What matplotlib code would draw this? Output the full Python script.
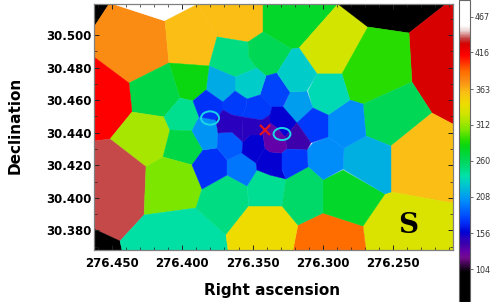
"""Voronoi-binned map with its colour scale."""

import matplotlib

matplotlib.use("Agg")
import matplotlib.pyplot as plt
from matplotlib.colors import LinearSegmentedColormap, Normalize
from matplotlib.patches import Ellipse
from matplotlib.ticker import FixedLocator, MultipleLocator

RA_MIN, RA_MAX = 276.2075, 276.4628
DEC_MIN, DEC_MAX = 30.3680, 30.5190
VMIN, VMAX = 57, 491

cbar_ticks = [104, 156, 208, 260, 312, 363, 416, 467]
ra_ticks = [276.45, 276.40, 276.35, 276.30, 276.25]
dec_ticks = [30.38, 30.40, 30.42, 30.44, 30.46, 30.48, 30.50]

# colour scale
scale_values = [57, 100, 120, 130, 140, 148, 157, 172, 185, 202, 213, 228, 238, 248, 260,
                272, 282, 290, 305, 315, 328, 342, 358, 375, 388, 412, 428, 436, 447, 455, 491]
scale_colors = ["#000000", "#000000", "#730a8c", "#6400aa", "#3c00aa", "#2800be", "#0000d2",
                "#0032fa", "#005aff", "#008cfa", "#00aae6", "#00cdc8", "#00e1aa", "#00dc82",
                "#00d75a", "#00d732", "#0ad70f", "#28dc00", "#7de600", "#a5e600", "#d2e400",
                "#eedc00", "#fac014", "#fa8c14", "#ff6e00", "#ff0000", "#d70000", "#c34141",
                "#ebd2d2", "#ffffff", "#ffffff"]

cell_ra = [
    [.4628, .4521, .4628],
    [.4521, .4493, .4123, .4095, .4379, .4628, .4628],
    [.4493, .3889, .4123],
    [.4123, .3889, .3753, .3810, .4095],
    [.3889, .3426, .3426, .3533, .3753],
    [.3426, .2893, .3170, .3220, .3426],
    [.3753, .3533, .3526, .3469, .3625, .3810],
    [.3533, .3426, .3220, .3327, .3405, .3469, .3526],
    [.3170, .2893, .2680, .2865, .3042],
    [.2893, .2125, .2388, .2680],
    [.2125, .2075, .2075, .2225, .2367, .2388],
    [.2680, .2388, .2367, .2715, .2808, .2865],
    [.2715, .2367, .2225, .2516, .2694],
    [.2516, .2225, .2075, .2075, .2516],
    [.2516, .2075, .2075, .2694, .2715, .2559],
    [.3213, .3178, .3000, .2715, .2694],
    [.3000, .2858, .2559, .2715, .3000],
    [.2850, .2694, .2516, .2516, .2559, .2858],
    [.3114, .3071, .2964, .2850, .2858, .3000, .3106],
    [.2964, .2808, .2715, .2694, .2850, .2964],
    [.3106, .3042, .2865, .2808, .2964, .3071],
    [.3234, .3114, .3071, .3185, .3284],
    [.3185, .3071, .2964, .2964, .3085],
    [.3405, .3327, .3234, .3284, .3362, .3448],
    [.3220, .3170, .3042, .3114, .3234, .3327],
    [.3469, .3405, .3448, .3540, .3625, .3625],
    [.3810, .3625, .3625, .3711, .3832],
    [.4095, .3810, .3832, .3924, .4017],
    [.4379, .4095, .4017, .4130, .4358],
    [.4628, .4379, .4358, .4514, .4628],
    [.4358, .4130, .4088, .4137, .4258, .4514],
    [.4628, .4514, .4258, .4272, .4443, .4628],
    [.4628, .4443, .4429, .4628],
    [.4130, .4017, .3924, .3881, .3931, .4088],
    [.4088, .3931, .3853, .3931, .4137],
    [.4258, .4137, .3931, .3860, .3903, .4272],
    [.4443, .4272, .3903, .3689, .3675, .4429],
    [.3860, .3682, .3540, .3526, .3689, .3903],
    [.3689, .3526, .3291, .3178, .3213, .3675],
    [.3540, .3469, .3377, .3263, .3291, .3526],
    [.3263, .3106, .3000, .3000, .3178, .3291],
    [.3931, .3853, .3753, .3682, .3682, .3860],
    [.3682, .3576, .3476, .3469, .3540, .3682],
    [.3881, .3761, .3746, .3753, .3853, .3931],
    [.3753, .3746, .3647, .3569, .3576, .3682],
    [.3569, .3519, .3426, .3412, .3476, .3576],
    [.3412, .3377, .3291, .3291, .3263, .3377, .3469, .3476],
    [.3924, .3832, .3711, .3711, .3761, .3881],
    [.3711, .3625, .3540, .3547, .3576, .3647, .3711],
    [.3540, .3448, .3362, .3377, .3434, .3576, .3547],
    [.3711, .3647, .3576, .3569, .3647, .3746, .3761],
    [.3576, .3434, .3377, .3377, .3426, .3519, .3569],
    [.3362, .3284, .3185, .3270, .3327, .3377, .3377],
    [.3185, .3085, .3114, .3256, .3270],
    [.3377, .3327, .3270, .3256, .3291, .3377, .3412, .3426],
    [.3291, .3256, .3114, .3106, .3263, .3291],
]
cell_dec = [
    [.5190, .5190, .5049],
    [.5190, .5190, .5086, .4828, .4705, .4865, .5049],
    [.5190, .5190, .5086],
    [.5086, .5190, .4988, .4810, .4828],
    [.5190, .5190, .5018, .4957, .4988],
    [.5190, .5190, .4920, .4914, .5018],
    [.4988, .4957, .4865, .4797, .4742, .4810],
    [.4957, .5018, .4914, .4767, .4748, .4797, .4865],
    [.4920, .5190, .5049, .4761, .4761],
    [.5190, .5190, .5012, .5049],
    [.5190, .5190, .4453, .4521, .4711, .5012],
    [.5049, .5012, .4711, .4576, .4601, .4761],
    [.4576, .4711, .4521, .4318, .4380],
    [.4318, .4521, .4453, .3968, .4036],
    [.4036, .3968, .3680, .3680, .3827, .4024],
    [.3680, .3833, .3907, .3827, .3680],
    [.4110, .4171, .4024, .3827, .3907],
    [.4306, .4380, .4318, .4036, .4024, .4177],
    [.4294, .4337, .4374, .4306, .4177, .4110, .4190],
    [.4509, .4601, .4576, .4380, .4306, .4374],
    [.4656, .4761, .4761, .4601, .4509, .4552],
    [.4650, .4656, .4552, .4460, .4552],
    [.4460, .4552, .4509, .4374, .4337],
    [.4748, .4767, .4650, .4558, .4558, .4632],
    [.4914, .4920, .4761, .4656, .4650, .4767],
    [.4797, .4748, .4632, .4607, .4656, .4742],
    [.4810, .4742, .4656, .4589, .4662],
    [.4828, .4810, .4662, .4595, .4613],
    [.4705, .4828, .4613, .4497, .4527],
    [.4865, .4705, .4527, .4361, .4349],
    [.4527, .4497, .4417, .4251, .4190, .4361],
    [.4349, .4361, .4190, .3895, .3735, .3809],
    [.3809, .3735, .3680, .3680],
    [.4497, .4613, .4595, .4497, .4411, .4417],
    [.4417, .4411, .4294, .4202, .4251],
    [.4190, .4251, .4202, .4054, .3938, .3895],
    [.3735, .3895, .3938, .3772, .3680, .3680],
    [.4054, .4140, .4073, .3950, .3772, .3938],
    [.3772, .3950, .3950, .3833, .3680, .3680],
    [.4073, .4171, .4140, .4116, .3950, .3950],
    [.4116, .4190, .4110, .3907, .3833, .3950],
    [.4202, .4294, .4306, .4233, .4140, .4054],
    [.4233, .4275, .4214, .4171, .4073, .4140],
    [.4497, .4478, .4398, .4306, .4294, .4411],
    [.4306, .4398, .4404, .4343, .4275, .4233],
    [.4343, .4386, .4386, .4306, .4214, .4275],
    [.4306, .4282, .4275, .4171, .4116, .4140, .4171, .4214],
    [.4595, .4662, .4589, .4540, .4478, .4497],
    [.4589, .4656, .4607, .4558, .4497, .4509, .4540],
    [.4607, .4632, .4558, .4509, .4478, .4497, .4558],
    [.4540, .4509, .4497, .4343, .4404, .4398, .4478],
    [.4497, .4478, .4509, .4460, .4386, .4386, .4343],
    [.4558, .4558, .4460, .4374, .4429, .4460, .4509],
    [.4460, .4337, .4294, .4300, .4374],
    [.4460, .4429, .4374, .4300, .4275, .4282, .4306, .4386],
    [.4275, .4300, .4294, .4190, .4116, .4171],
]
cell_values = [60, 375, 470, 358, 358, 274, 248, 262, 328, 60, 428, 290, 262, 358, 332, 388,
               274, 215, 202, 202, 235, 208, 174, 178, 228, 228, 213, 282, 266, 412, 315, 436,
               60, 245, 266, 305, 240, 248, 342, 244, 256, 172, 195, 205, 185, 157, 157, 172,
               175, 175, 148, 148, 157, 140, 130, 174]

# knots found in the map
knot_ra = [276.3803, 276.3291]
knot_dec = [30.4490, 30.4392]
knot_width = [0.0128, 0.0120]
knot_height = [0.0082, 0.0074]
centre_ra = [276.3412]
centre_dec = [30.4417]


def main() -> None:
    cmap = LinearSegmentedColormap.from_list(
        "map_scale",
        [((v - VMIN) / (VMAX - VMIN), c) for v, c in zip(scale_values, scale_colors)],
        N=512,
    )
    norm = Normalize(VMIN, VMAX)

    fig = plt.figure(figsize=(4.96, 3.02), dpi=100)
    ax = fig.add_axes([94 / 496, 1 - 250 / 302, 359 / 496, 246 / 302])

    for ra, dec, value in zip(cell_ra, cell_dec, cell_values):
        color = cmap(norm(value))
        ax.fill([276 + r for r in ra], [30 + d for d in dec], color=color, lw=0.3)

    for x, y, w, h in zip(knot_ra, knot_dec, knot_width, knot_height):
        ax.add_patch(Ellipse((x, y), w, h, fill=False, ec="#19d7e6", lw=1.4))
    ax.plot(centre_ra, centre_dec, "x", color="#e6141e", ms=7, mew=1.6)
    ax.text(276.2395, 30.3833, "S", family="DejaVu Serif", weight="bold", fontsize=20,
            ha="center", va="center", color="black")

    ax.set_xlim(RA_MAX, RA_MIN)
    ax.set_ylim(DEC_MIN, DEC_MAX)
    ax.xaxis.set_major_locator(FixedLocator(ra_ticks))
    ax.xaxis.set_minor_locator(MultipleLocator(0.01))
    ax.yaxis.set_major_locator(FixedLocator(dec_ticks))
    ax.yaxis.set_minor_locator(MultipleLocator(0.01))
    ax.set_xticklabels([f"{t:.3f}" for t in ra_ticks], fontweight="bold", fontsize=8.5)
    ax.set_yticklabels([f"{t:.3f}" for t in dec_ticks], fontweight="bold", fontsize=8.5)
    ax.tick_params(which="both", direction="in", top=True, right=True, color="#222222")
    ax.tick_params(axis="x", which="both", pad=5)
    ax.tick_params(axis="y", which="both", pad=2)
    ax.tick_params(which="major", length=3.5, width=0.7)
    ax.tick_params(which="minor", length=2, width=0.5)
    for spine in ax.spines.values():
        spine.set_color("#808080")
        spine.set_linewidth(0.9)
    fig.text(272 / 496, 1 - 290 / 302, "Right ascension", fontweight="bold", fontsize=11,
             ha="center", va="center")
    fig.text(15 / 496, 1 - 125 / 302, "Declination", fontweight="bold", fontsize=11,
             rotation=90, ha="center", va="center")

    cax = fig.add_axes([458.5 / 496, 0, 11 / 496, 1])
    sm = plt.cm.ScalarMappable(norm=norm, cmap=cmap)
    cbar = fig.colorbar(sm, cax=cax, ticks=cbar_ticks)
    cbar.ax.tick_params(labelsize=5.8, length=2, width=0.6, color="#555555", labelcolor="#333333", pad=2)
    cbar.outline.set_edgecolor("#666666")
    cbar.outline.set_linewidth(0.8)

    fig.savefig("out.png", dpi=100)


if __name__ == "__main__":
    main()
